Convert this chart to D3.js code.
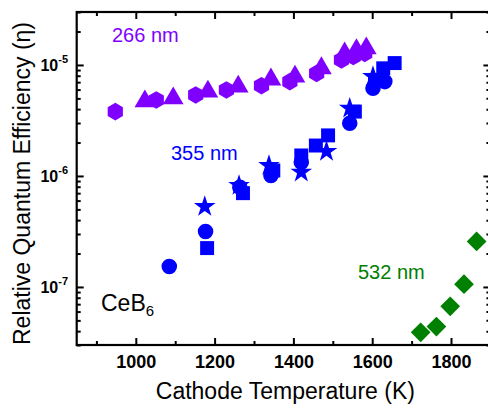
<!DOCTYPE html>
<html><head><meta charset="utf-8">
<script src="https://cdn.jsdelivr.net/npm/d3@7/dist/d3.min.js"></script>
<style>
html,body{margin:0;padding:0;background:#fff;overflow:hidden}
text{font-family:"Liberation Sans",Arial,sans-serif}
</style></head><body>
<svg id="c" width="488" height="409"></svg>
<script>
// ---- data ----
const xMajorTicks = [1000, 1200, 1400, 1600, 1800];
const xMinorTicks = [900, 1100, 1300, 1500, 1700, 1900];
const yMajorTicks = [1e-7, 1e-6, 1e-5];
const yMajorExp = ["-7", "-6", "-5"];

const purpleHexT = [948, 1052, 1152, 1230, 1319, 1391, 1459, 1522, 1552, 1581];
const purpleHexV = [3.8e-6, 4.84e-6, 5.37e-6, 5.96e-6, 6.5e-6, 7.08e-6, 8.4e-6, 1.11e-5, 1.19e-5, 1.27e-5];
const purpleTriT = [1023, 1095, 1183, 1260, 1343, 1404, 1471, 1530, 1560, 1585];
const purpleTriV = [4.7e-6, 5.0e-6, 5.75e-6, 6.38e-6, 7.4e-6, 7.85e-6, 9.33e-6, 1.27e-5, 1.36e-5, 1.41e-5];

const blueCircT = [1085, 1177, 1264, 1343, 1420, 1543, 1602, 1632];
const blueCircV = [1.53e-7, 3.16e-7, 7.9e-7, 1.01e-6, 1.33e-6, 2.99e-6, 6.17e-6, 7.08e-6];
const blueSqT = [1181, 1272, 1349, 1420, 1457, 1488, 1556, 1607, 1628, 1657];
const blueSqV = [2.24e-7, 7.0e-7, 1.12e-6, 1.53e-6, 1.88e-6, 2.32e-6, 3.8e-6, 7.33e-6, 9.33e-6, 1.04e-5];
const blueStarT = [1175, 1262, 1338, 1420, 1484, 1543, 1602];
const blueStarV = [5.3e-7, 8.2e-7, 1.24e-6, 1.08e-6, 1.66e-6, 4.07e-6, 7.86e-6];

const greenDiaT = [1723, 1763, 1798, 1833, 1865];
const greenDiaV = [3.9e-8, 4.4e-8, 6.7e-8, 1.06e-7, 2.57e-7];

const purple = "#8000ff", blue = "#0000ff", green = "#008000";

// ---- layout ----
const L = 76.7, R = 490.4, T = 12, B = 345;
const svg = d3.select("#c");
const x = d3.scaleLinear().domain([850, 1900]).range([L, R]);
const y = d3.scaleLog().domain([3e-8, 3e-5]).range([B, T]);

const hexagon = {
  draw(ctx, size) {
    const r = Math.sqrt(size / (1.5 * Math.sqrt(3)));
    for (let i = 0; i < 6; i++) {
      const a = Math.PI / 2 + i * Math.PI / 3;
      const px = r * Math.cos(a), py = r * Math.sin(a);
      if (i === 0) ctx.moveTo(px, py); else ctx.lineTo(px, py);
    }
    ctx.closePath();
  }
};

function series(Ts, Vs, type, size, color, rot) {
  const g = svg.append("g");
  g.selectAll("path").data(Ts.map((t, i) => [t, Vs[i]])).join("path")
    .attr("d", d3.symbol().type(type).size(size))
    .attr("transform", d => `translate(${x(d[0])},${y(d[1])})` + (rot ? ` rotate(${rot})` : ""))
    .attr("fill", color);
}

series(purpleHexT, purpleHexV, hexagon, 200, purple);
series(purpleTriT, purpleTriV, d3.symbolTriangle, 185, purple);
series(blueCircT, blueCircV, d3.symbolCircle, 190, blue);
series(blueSqT, blueSqV, d3.symbolSquare, 195, blue);
series(blueStarT, blueStarV, d3.symbolStar, 145, blue);
series(greenDiaT, greenDiaV, d3.symbolSquare, 195, green, 45);

// ---- axes ----
const yMinor = y.ticks().filter(v => !yMajorTicks.some(m => Math.abs(m - v) / m < 1e-6));
function styleAxis(g) {
  g.select(".domain").remove();
  g.selectAll("line").attr("stroke", "#000").attr("stroke-width", 2);
}
svg.append("g").attr("transform", `translate(0,${B})`)
  .call(d3.axisBottom(x).tickValues(xMajorTicks).tickSize(-7).tickPadding(10).tickFormat(d3.format("d")))
  .call(styleAxis)
  .call(g => g.selectAll("text").attr("font-size", 18).attr("font-weight", "bold")
        .attr("font-family", "Liberation Sans, Arial, sans-serif").attr("fill", "#000"));
svg.append("g").attr("transform", `translate(0,${B})`)
  .call(d3.axisBottom(x).tickValues(xMinorTicks).tickSize(-4).tickFormat("")).call(styleAxis);
svg.append("g").attr("transform", `translate(0,${T})`)
  .call(d3.axisTop(x).tickValues(xMajorTicks).tickSize(-7).tickFormat("")).call(styleAxis);
svg.append("g").attr("transform", `translate(0,${T})`)
  .call(d3.axisTop(x).tickValues(xMinorTicks).tickSize(-4).tickFormat("")).call(styleAxis);
svg.append("g").attr("transform", `translate(${L},0)`)
  .call(d3.axisLeft(y).tickValues(yMajorTicks).tickSize(-7).tickFormat("")).call(styleAxis);
svg.append("g").attr("transform", `translate(${L},0)`)
  .call(d3.axisLeft(y).tickValues(yMinor).tickSize(-4).tickFormat("")).call(styleAxis);
svg.append("g").attr("transform", `translate(${R},0)`)
  .call(d3.axisRight(y).tickValues(yMajorTicks).tickSize(-7).tickFormat("")).call(styleAxis);
svg.append("g").attr("transform", `translate(${R},0)`)
  .call(d3.axisRight(y).tickValues(yMinor).tickSize(-4).tickFormat("")).call(styleAxis);

// y tick labels with superscripts
const yl = svg.append("g");
yMajorTicks.forEach((v, i) => {
  const t = yl.append("text").attr("x", 68).attr("y", y(v) + 6)
    .attr("text-anchor", "end").attr("font-weight", "bold").attr("fill", "#000");
  t.append("tspan").attr("font-size", 16).text("10");
  t.append("tspan").attr("font-size", 11).attr("dy", -8).text(yMajorExp[i]);
});

// frame
svg.append("rect").attr("x", L).attr("y", T).attr("width", R - L).attr("height", B - T)
  .attr("fill", "none").attr("stroke", "#000").attr("stroke-width", 2.2);

// labels
svg.append("text").attr("x", (L + 490) / 2 + 2).attr("y", 399).attr("text-anchor", "middle")
  .attr("font-size", 23).attr("fill", "#000").text("Cathode Temperature (K)");
svg.append("text").attr("transform", `translate(30,${(T + B) / 2 + 5}) rotate(-90)`)
  .attr("text-anchor", "middle").attr("font-size", 23).attr("fill", "#000")
  .text("Relative Quantum Efficiency (η)");

svg.append("text").attr("x", 112).attr("y", 42).attr("font-size", 20).attr("fill", purple).text("266 nm");
svg.append("text").attr("x", 171).attr("y", 160).attr("font-size", 20).attr("fill", blue).text("355 nm");
svg.append("text").attr("x", 358).attr("y", 279).attr("font-size", 20).attr("fill", green).text("532 nm");
const ce = svg.append("text").attr("x", 101).attr("y", 311).attr("font-size", 23).attr("fill", "#000");
ce.append("tspan").text("CeB");
ce.append("tspan").attr("font-size", 15).attr("dy", 5).text("6");
</script>
</body></html>
